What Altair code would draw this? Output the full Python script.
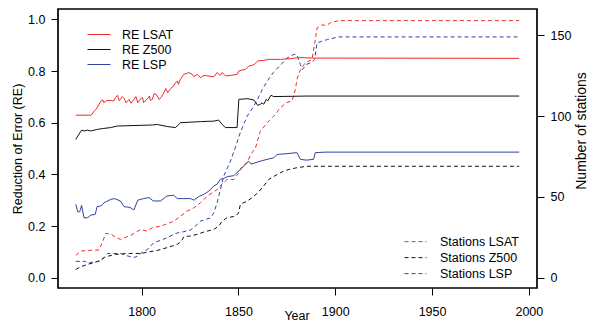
import altair as alt
import pandas as pd

# ---------------- data ----------------
RE_NAMES = ["RE LSAT", "RE Z500", "RE LSP"]
RE_COLORS = ["#ee2b2b", "#111111", "#3242a0"]
ST_NAMES = ["Stations LSAT", "Stations Z500", "Stations LSP"]
ST_COLORS = ["#ee2b2b", "#111111", "#3242a0"]

RE_LSAT_YEAR = [1766, 1774, 1775.5, 1776.5, 1777, 1779, 1780, 1780.5, 1782, 1784, 1785.5, 1786.5,
                1787.5, 1788.5, 1789, 1790, 1791, 1792, 1793.5, 1794.5, 1796, 1797, 1798, 1799.5,
                1800.5, 1801, 1803, 1804, 1804.5, 1805.5, 1806.5, 1808, 1809, 1810, 1811.5, 1812.5,
                1813.5, 1815, 1816.5, 1817.5, 1818.5, 1819, 1820, 1821.8, 1824.4, 1826.1, 1827,
                1828.7, 1830.4, 1832.1, 1833.9, 1837.3, 1839, 1840.4, 1841.6, 1843.3, 1845.9,
                1849.3, 1850.2, 1851.9, 1853.6, 1855.3, 1857.1, 1858.2, 1860, 1863, 1865.6, 1871.6,
                1876.8, 1882, 1888.8, 1995]
RE_LSAT = [0.629, 0.629, 0.645, 0.652, 0.658, 0.684, 0.688, 0.677, 0.686, 0.686, 0.684, 0.697,
           0.706, 0.684, 0.690, 0.701, 0.693, 0.677, 0.690, 0.675, 0.690, 0.701, 0.677, 0.693,
           0.697, 0.677, 0.693, 0.703, 0.686, 0.690, 0.713, 0.706, 0.690, 0.697, 0.716, 0.732,
           0.716, 0.732, 0.742, 0.755, 0.761, 0.748, 0.768, 0.787, 0.794, 0.787, 0.778,
           0.787, 0.774, 0.783, 0.781, 0.778, 0.794, 0.783, 0.794, 0.781, 0.783,
           0.787, 0.800, 0.804, 0.806, 0.819, 0.822, 0.826, 0.839, 0.841, 0.845, 0.845,
           0.848, 0.852, 0.850, 0.849]

RE_Z500_YEAR = [1766, 1767, 1769, 1770.3, 1772, 1773.7, 1777.2, 1779.7, 1784, 1787.5, 1805.5,
                1808.1, 1813.2, 1817.5, 1820.1, 1825.3, 1830.4, 1837.3, 1839.8, 1841.6, 1843.3,
                1849.3, 1850.2, 1854.5, 1857.9, 1860, 1861.3, 1862.2, 1863, 1864.4, 1865.1,
                1866.8, 1868.2, 1885.4, 1995]
RE_Z500 = [0.535, 0.548, 0.571, 0.568, 0.571, 0.568, 0.574, 0.577, 0.581, 0.587, 0.591,
           0.593, 0.585, 0.581, 0.600, 0.602, 0.604, 0.606, 0.610, 0.593, 0.581,
           0.581, 0.690, 0.693, 0.688, 0.667, 0.671, 0.677, 0.671, 0.690, 0.684,
           0.706, 0.701, 0.703, 0.703]

RE_LSP_YEAR = [1766, 1767, 1768, 1769, 1770.2, 1772, 1773.7, 1776, 1777, 1779, 1780.6, 1782,
               1784, 1786, 1789, 1790.9, 1794, 1796, 1798, 1801, 1803.8, 1806, 1809.8, 1813,
               1816.6, 1818.4, 1825.3, 1827, 1829.5, 1832, 1834.7, 1837.3, 1839, 1840.7, 1842.4,
               1844.2, 1847.6, 1851, 1853.6, 1855.3, 1856.5, 1858, 1861.3, 1864.8, 1868.2, 1870,
               1875, 1880.2, 1882, 1885, 1888.8, 1889.7, 1895, 1995]
RE_LSP = [0.284, 0.255, 0.255, 0.280, 0.232, 0.232, 0.242, 0.245, 0.275, 0.278, 0.290, 0.295,
          0.303, 0.306, 0.297, 0.275, 0.272, 0.262, 0.300, 0.306, 0.310, 0.297, 0.297, 0.316,
          0.319, 0.306, 0.306, 0.300, 0.314, 0.322, 0.335, 0.355, 0.362, 0.381, 0.384,
          0.391, 0.395, 0.419, 0.439, 0.451, 0.440, 0.443, 0.451, 0.458, 0.464, 0.477,
          0.480, 0.484, 0.458, 0.455, 0.458, 0.484, 0.486, 0.486]

ST_LSAT_YEAR = [1766, 1768.6, 1774, 1778, 1779.7, 1781.4, 1784, 1786, 1789, 1791.8, 1794.3, 1796,
                1799.5, 1802.9, 1805.5, 1809.8, 1813.2, 1816.6, 1820.1, 1823.5, 1827, 1830.4,
                1833.9, 1836.5, 1839, 1842, 1844.2, 1847.6, 1850.2, 1852, 1854.5, 1856.2, 1858.8,
                1861.3, 1864.8, 1869, 1871.6, 1875, 1877.7, 1879.4, 1880.2, 1882, 1884.5, 1888,
                1889.7, 1890.6, 1893, 1895.7, 1897.4, 1901.7, 1995]
ST_LSAT = [13.8, 16.5, 17, 17.1, 21.7, 27.4, 27, 25.5, 23.7, 25, 26.2, 27.4,
           29.9, 28.8, 30.9, 31.9, 33.4, 35, 38.1, 41.2, 43.3, 46.4,
           50.5, 52.6, 54.6, 58.7, 60.8, 60.8, 65, 69, 71.2, 76, 80.4,
           90.7, 95.9, 101, 105.2, 108.5, 109.5, 116.5, 122.7, 128.9, 133, 135.1,
           147.5, 154.7, 156.5, 156.3, 157.8, 159.2, 159.2]

ST_Z500_YEAR = [1766, 1768.6, 1772, 1775.4, 1778, 1780.6, 1783, 1786.6, 1792.6, 1800, 1803,
                1808, 1813.2, 1818.4, 1820.5, 1821.8, 1825, 1828.7, 1832, 1837.3, 1839.8,
                1841.6, 1844, 1848.5, 1850, 1851, 1854.5, 1857, 1860, 1863, 1865.6, 1870,
                1873.4, 1876, 1880.2, 1885.4, 1995]
ST_Z500 = [5.1, 6.8, 8.2, 9.3, 10.3, 12.4, 13.4, 14.4, 15, 15, 15.8,
           16.9, 18.6, 20.6, 22.5, 25.4, 25.8, 26.8, 28.2, 29.9, 31.9,
           35, 37.1, 38.1, 40, 45.4, 47.4, 49.5, 52.6, 56.7, 60.8, 63.9,
           66, 67, 68.1, 69, 69]

ST_LSP_YEAR = [1766, 1771, 1772, 1775, 1779, 1780.6, 1782.3, 1789, 1791.8, 1796, 1798, 1800,
               1803, 1806.3, 1809.8, 1813.2, 1817.5, 1821.8, 1825.3, 1828.7, 1830.4, 1835.6,
               1837.3, 1839, 1840.7, 1842.4, 1845.9, 1848.5, 1851, 1854.5, 1857, 1859.7,
               1862.3, 1865, 1868, 1872, 1875, 1878.5, 1880.2, 1882, 1883, 1885, 1888,
               1889.3, 1890.6, 1893, 1896, 1901.7, 1995]
ST_LSP = [10.1, 10.1, 8.8, 9.7, 10.5, 12.4, 15, 15, 13.8, 12.4, 13.5, 15.5,
          17.5, 21.7, 23.1, 24.8, 27.4, 28.5, 29.5, 33, 35, 37.1,
          40.2, 46.4, 54.6, 62.9, 72.2, 81, 90, 100, 104.5, 110,
          116.5, 122, 127, 132, 136, 138.2, 138.2, 132, 128.9, 132, 133.5,
          135, 145.4, 146.4, 147.5, 149.1, 149.1]

X_TICKS = [1800, 1850, 1900, 1950, 2000]
RE_TICKS = [0.0, 0.2, 0.4, 0.6, 0.8, 1.0]
ST_TICKS = [0, 50, 100, 150]

# ---------------- tables ----------------
re_df = pd.concat([
    pd.DataFrame({"Year": RE_LSAT_YEAR, "RE": RE_LSAT, "series": RE_NAMES[0]}),
    pd.DataFrame({"Year": RE_Z500_YEAR, "RE": RE_Z500, "series": RE_NAMES[1]}),
    pd.DataFrame({"Year": RE_LSP_YEAR, "RE": RE_LSP, "series": RE_NAMES[2]}),
])
st_df = pd.concat([
    pd.DataFrame({"Year": ST_LSAT_YEAR, "Stations": ST_LSAT, "series": ST_NAMES[0]}),
    pd.DataFrame({"Year": ST_Z500_YEAR, "Stations": ST_Z500, "series": ST_NAMES[1]}),
    pd.DataFrame({"Year": ST_LSP_YEAR, "Stations": ST_LSP, "series": ST_NAMES[2]}),
])

FONT = "Liberation Sans"

x_enc = alt.X(
    "Year:Q",
    scale=alt.Scale(domain=[1756.8, 2004.2], nice=False, zero=False),
    axis=alt.Axis(values=X_TICKS, format="d", title="Year", tickSize=7, labelPadding=10,
                  titleX=238.5, titleY=31, titleAlign="center", titleBaseline="alphabetic"),
)

re_layer = alt.Chart(re_df).mark_line(strokeWidth=1).encode(
    x=x_enc,
    y=alt.Y("RE:Q",
            scale=alt.Scale(domain=[-0.04, 1.04], nice=False, zero=False),
            axis=alt.Axis(values=RE_TICKS, format=".1f", title="Reduction of Error (RE)",
                          tickSize=7, labelPadding=6, titleAngle=270, titleX=-41, titleY=139.5,
                          titleAlign="center", titleBaseline="middle")),
    color=alt.Color("series:N",
                    scale=alt.Scale(domain=RE_NAMES, range=RE_COLORS),
                    legend=alt.Legend(title=None, orient="none", legendX=29, legendY=18,
                                      symbolType="stroke", symbolSize=529, symbolStrokeWidth=1,
                                      labelOffset=11, clipHeight=15, rowPadding=0, padding=0,
                                      labelFontSize=12.5, labelFont=FONT, labelColor="black")),
)

st_layer = alt.Chart(st_df).mark_line(strokeWidth=1, strokeDash=[4, 3]).encode(
    x=x_enc,
    y=alt.Y("Stations:Q",
            scale=alt.Scale(domain=[-6.4, 166.4], nice=False, zero=False),
            axis=alt.Axis(orient="right", values=ST_TICKS, format="d", title="Number of stations",
                          tickSize=7, labelPadding=6, titleAngle=270, titleX=44.5, titleY=121.5,
                          titleAlign="center", titleBaseline="middle", titleFontSize=14)),
    color=alt.Color("series:N",
                    scale=alt.Scale(domain=ST_NAMES, range=ST_COLORS),
                    legend=alt.Legend(title=None, orient="none", legendX=346, legendY=225,
                                      symbolType="stroke", symbolSize=484, symbolStrokeWidth=1,
                                      symbolDash=[4, 3],
                                      labelOffset=13, clipHeight=15.3, rowPadding=0, padding=0,
                                      labelFontSize=12.5, labelFont=FONT, labelColor="black")),
)

chart = alt.layer(st_layer, re_layer).resolve_scale(
    y="independent", color="independent"
).properties(
    width=479, height=279,
    padding={"left": 58, "top": 9, "right": 52, "bottom": 36},
    autosize=alt.AutoSizeParams(type="none"),
).configure_view(
    stroke="black", strokeWidth=1.7
).configure_axis(
    grid=False, domain=False, tickColor="black", tickWidth=1,
    labelColor="black", titleColor="black", labelFont=FONT, titleFont=FONT,
    labelFontSize=12.5, titleFontSize=12.5, titleFontWeight="normal",
)

chart.save("out.html", embed_options={"renderer": "svg", "actions": False})
